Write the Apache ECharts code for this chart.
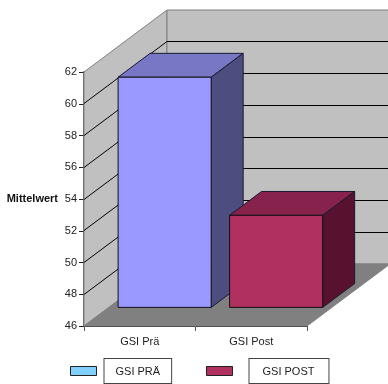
<!DOCTYPE html>
<html>
<head>
<meta charset="utf-8">
<style>html,body{margin:0;padding:0;background:#fff}#c{width:388px;height:384px}</style>
<script src="https://cdn.jsdelivr.net/npm/echarts@6/dist/echarts.min.js"></script>
</head>
<body>
<div id="c"></div>
<script>
const categories = ['GSI Prä', 'GSI Post'];
const seriesNames = ['GSI PRÄ', 'GSI POST'];
const preValues = [60.5, null];
const postValues = [null, 51.8];
const legendColors = ['#7fcfff', '#b03060'];
const axisMin = 46, axisMax = 62, axisStep = 2;
const yTicks = [46, 48, 50, 52, 54, 56, 58, 60, 62];

// Oblique projection used for the fake 3D box
const DEPTH_X = 83, DEPTH_Y = 62;
const BAR_WIDTH_RATIO = 0.835;
const BAR_FRONT = 0.3, BAR_BACK = 0.685;   // bar position along the depth axis

const faces = [
  { front: '#9999ff', top: '#7777c6', side: '#4d4d80' },
  { front: '#b03060', top: '#86224c', side: '#58122f' }
];
const poly = (points, fill, stroke, lineWidth) => ({
  type: 'polygon',
  shape: { points },
  style: { fill, stroke, lineWidth }
});
const line = (x1, y1, x2, y2, stroke) => ({
  type: 'line',
  shape: { x1, y1, x2, y2 },
  style: { stroke, lineWidth: 1 }
});

// Walls, floor and the gridlines running over them
function renderRoom(params, api) {
  const g = params.coordSys;
  const left = g.x, right = g.x + g.width, bottom = g.y + g.height, top = g.y;
  const children = [
    poly([[left, top], [left + DEPTH_X, top - DEPTH_Y], [left + DEPTH_X, bottom - DEPTH_Y], [left, bottom]], '#c0c0c0', '#808080', 1),
    poly([[left + DEPTH_X, top - DEPTH_Y], [right + DEPTH_X, top - DEPTH_Y], [right + DEPTH_X, bottom - DEPTH_Y], [left + DEPTH_X, bottom - DEPTH_Y]], '#c0c0c0', '#808080', 1),
    poly([[left, bottom], [left + DEPTH_X, bottom - DEPTH_Y], [right + DEPTH_X, bottom - DEPTH_Y], [right, bottom]], '#808080', '#808080', 1)
  ];
  yTicks.forEach(v => {
    if (v === axisMin || v === axisMax) return;
    const y = Math.floor(api.coord([0, v])[1]) + 0.5;
    children.push(line(left, y, left + DEPTH_X, y - DEPTH_Y, '#000'));
    children.push(line(left + DEPTH_X, y - DEPTH_Y, right + DEPTH_X, y - DEPTH_Y, '#000'));
  });
  return { type: 'group', children };
}

// One box per value
function renderBar(colors) {
  return function (params, api) {
    const val = api.value(1);
    const band = api.size([1, 0])[0];
    const center = api.coord([api.value(0), axisMin])[0];
    const yBase = api.coord([0, axisMin])[1];
    const yVal = api.coord([0, val])[1];
    const w = band * BAR_WIDTH_RATIO;
    const fx = DEPTH_X * BAR_FRONT, fy = DEPTH_Y * BAR_FRONT;
    const bx = DEPTH_X * BAR_BACK, by = DEPTH_Y * BAR_BACK;
    const x0 = center + fx - w / 2, x1 = x0 + w;
    const ddx = bx - fx, ddy = by - fy;
    const yb = yBase - fy, yt = yVal - fy;
    return {
      type: 'group',
      children: [
        poly([[x0, yt], [x0 + ddx, yt - ddy], [x1 + ddx, yt - ddy], [x1, yt]], colors.top, '#1a1a33', 1),
        poly([[x1, yt], [x1 + ddx, yt - ddy], [x1 + ddx, yb - ddy], [x1, yb]], colors.side, '#1a1a33', 1),
        poly([[x0, yt], [x1, yt], [x1, yb], [x0, yb]], colors.front, '#111', 1)
      ]
    };
  };
}

const toRows = values => values.map((v, i) => [i, v]).filter(r => r[1] !== null);

// Each legend entry has its own gap and inner spacing around the boxed label
const legendBoxes = [
  { gap: 3, padding: [7, 11, 6, 11] },
  { gap: 12, padding: [7, 14, 6, 13] }
];

const chart = echarts.init(document.getElementById('c'), null, { renderer: 'canvas' });
chart.setOption({
  animation: false,
  backgroundColor: '#fff',
  textStyle: { fontFamily: '"Liberation Sans", Arial, sans-serif' },
  grid: { left: 84, top: 72, width: 223, height: 254, outerBoundsMode: 'none' },
  xAxis: {
    type: 'category',
    data: categories,
    axisLine: { show: true, lineStyle: { color: '#222', width: 1 } },
    axisTick: { show: true, alignWithLabel: false, length: 5, lineStyle: { color: '#555' } },
    axisLabel: { color: '#222', fontSize: 11, margin: 10 },
    splitLine: { show: false }
  },
  yAxis: {
    type: 'value',
    min: axisMin, max: axisMax, interval: axisStep,
    name: 'Mittelwert',
    nameLocation: 'middle',
    nameRotate: 0,
    nameGap: 26,
    nameTextStyle: { color: '#111', fontSize: 11, fontWeight: 'bold' },
    axisLine: { show: true, lineStyle: { color: '#666', width: 2 } },
    axisTick: { show: true, length: 5, lineStyle: { color: '#222' } },
    axisLabel: { color: '#222', fontSize: 11, margin: 7, padding: [2, 0, 0, 0] },
    splitLine: { show: false }
  },
  legend: [0, 1].map(i => ({
    left: i === 0 ? 70 : 206,
    top: 358,
    padding: 0,
    data: [{ name: seriesNames[i], icon: 'rect', itemStyle: { color: legendColors[i], borderColor: '#222', borderWidth: 1 } }],
    itemWidth: 26,
    itemHeight: 9,
    itemGap: 0,
    selectedMode: false,
    formatter: name => '{gap|}{box|' + name + '}',
    textStyle: {
      rich: {
        gap: { width: legendBoxes[i].gap },
        box: {
          color: '#222', fontSize: 11,
          borderColor: '#444', borderWidth: 1,
          padding: legendBoxes[i].padding,
          backgroundColor: '#fff'
        }
      }
    }
  })),
  series: [
    { type: 'custom', name: '_room', silent: true, renderItem: renderRoom, data: [[0, axisMin]], z: 1 },
    { type: 'custom', name: seriesNames[0], renderItem: renderBar(faces[0]), encode: { x: 0, y: 1 }, data: toRows(preValues), itemStyle: { color: legendColors[0] }, z: 3 },
    { type: 'custom', name: seriesNames[1], renderItem: renderBar(faces[1]), encode: { x: 0, y: 1 }, data: toRows(postValues), itemStyle: { color: legendColors[1] }, z: 4 }
  ]
});
</script>
</body>
</html>
